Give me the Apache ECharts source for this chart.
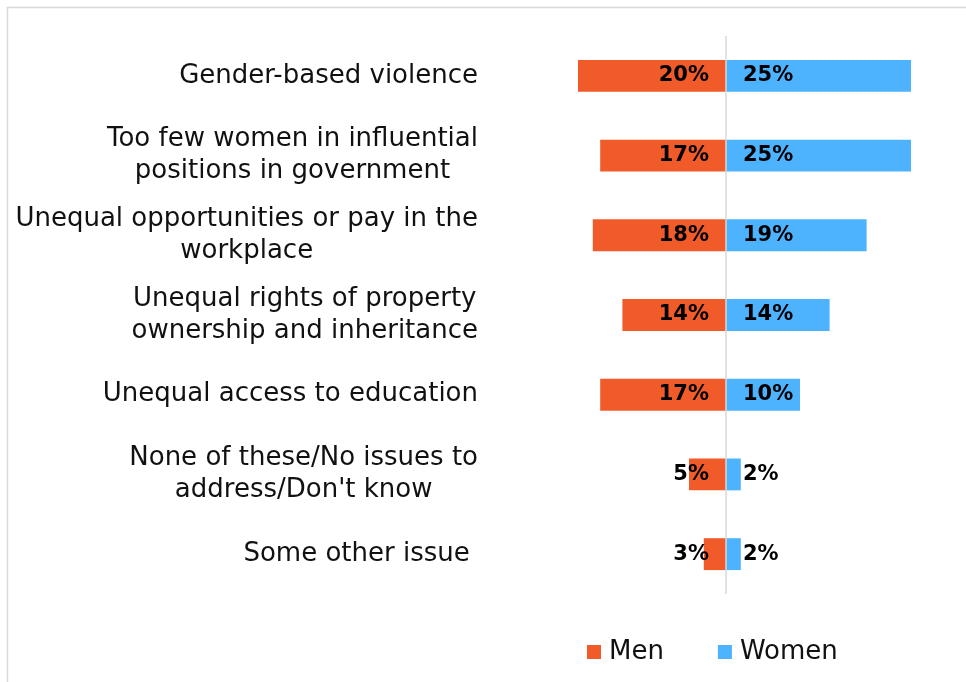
<!DOCTYPE html>
<html>
<head>
<meta charset="utf-8">
<script src="https://cdn.jsdelivr.net/npm/echarts@6/dist/echarts.min.js"></script>
<style>
  html, body { margin: 0; padding: 0; background: #fff; }
  #chart { width: 966px; height: 682px; }
</style>
</head>
<body>
<div id="chart"></div>
<script>
// Issues to address, top to bottom
const categories = [
  'Gender-based violence',
  'Too few women in influential\npositions in government',
  'Unequal opportunities or pay in the\nworkplace',
  'Unequal rights of property\nownership and inheritance',
  'Unequal access to education',
  'None of these/No issues to\naddress/Don\'t know',
  'Some other issue '
];
// Share of respondents naming each issue (%)
const menValues = [20, 17, 18, 14, 17, 5, 3];
const womenValues = [25, 25, 19, 14, 10, 2, 2];
const seriesNames = ['Men', 'Women'];

const FONT = 'DejaVu Sans';
const chart = echarts.init(document.getElementById('chart'));

chart.setOption({
  animation: false,
  backgroundColor: '#fff',
  graphic: [{
    type: 'rect',
    shape: { x: 7.5, y: 7.5, width: 980, height: 700 },
    style: { fill: 'none', stroke: '#d9d9d9', lineWidth: 1.5 },
    silent: true
  }],
  legend: {
    data: seriesNames,
    bottom: 12,
    left: 582,
    itemWidth: 14,
    itemHeight: 14,
    itemGap: 54,
    icon: 'rect',
    textStyle: { fontFamily: FONT, fontSize: 26, color: '#111', padding: [0, 0, 0, 3] }
  },
  grid: { left: 578, width: 333, top: 36, height: 558 },
  xAxis: {
    type: 'value',
    min: -20,
    max: 25,
    show: false
  },
  yAxis: {
    type: 'category',
    inverse: true,
    data: categories,
    axisLine: { show: false },
    axisTick: { show: false },
    axisLabel: {
      margin: 100,
      formatter: function (v) {
        return v.split('\n').map(function (s) { return '{c|' + s + '}'; }).join('\n');
      },
      rich: {
        c: { fontFamily: FONT, fontSize: 26, lineHeight: 32, color: '#111', align: 'center' }
      }
    }
  },
  series: [
    {
      name: 'Men',
      type: 'bar',
      stack: 'all',
      barCategoryGap: '60%',
      itemStyle: { color: '#F15A29' },
      data: menValues.map(function (v) { return -v; }),
      label: {
        show: true,
        position: 'insideRight',
        distance: 17,
        fontFamily: FONT,
        fontWeight: 'bold',
        fontSize: 21,
        color: '#000',
        formatter: function (p) { return Math.abs(p.value) + '%'; }
      },
      markLine: {
        silent: true,
        symbol: 'none',
        label: { show: false },
        lineStyle: { color: '#d9d9d9', width: 1.5, type: 'solid' },
        data: [{ xAxis: 0 }]
      }
    },
    {
      name: 'Women',
      type: 'bar',
      stack: 'all',
      barCategoryGap: '60%',
      itemStyle: { color: '#4DB3FF' },
      data: womenValues,
      label: {
        show: true,
        position: 'insideLeft',
        distance: 17,
        fontFamily: FONT,
        fontWeight: 'bold',
        fontSize: 21,
        color: '#000',
        formatter: function (p) { return p.value + '%'; }
      }
    }
  ]
});
</script>
</body>
</html>
